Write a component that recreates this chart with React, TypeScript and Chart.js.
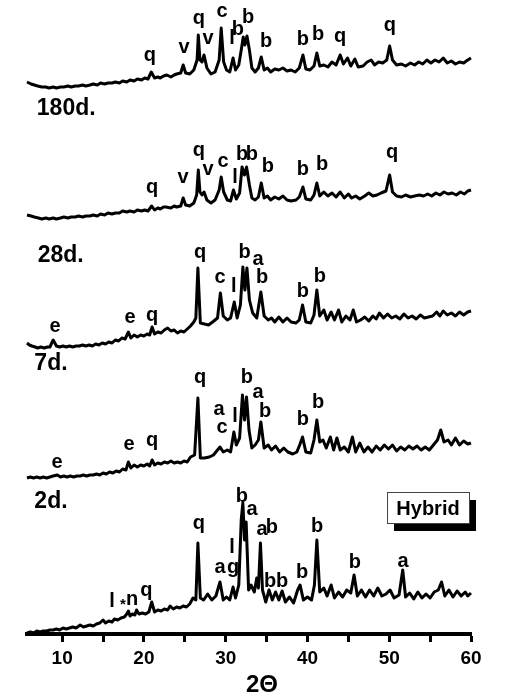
import React, { useEffect, useRef } from "react";
import { Chart, registerables } from "chart.js";

Chart.register(...registerables);

// ---- Data (2θ, relative intensity) ----
const TRACE_180D: [number, number][] = [
  [5.7, 6], [6.2, 4], [6.6, 3], [7.0, 2], [7.5, 1], [8.0, 1], [8.4, 0], [8.9, 1], [9.3, 0], [9.8, 1],
  [10.2, 1], [10.7, 2], [11.1, 1], [11.6, 2], [12.0, 2], [12.5, 3], [12.9, 2], [13.4, 3], [13.8, 4], [14.3, 3],
  [14.7, 5], [15.2, 4], [15.6, 5], [16.1, 5], [16.5, 6], [17.0, 5], [17.4, 7], [17.9, 6], [18.3, 8], [18.8, 7],
  [19.2, 9], [19.7, 8], [20.1, 10], [20.5, 9], [20.9, 16], [21.3, 10], [21.7, 11], [22.0, 10], [22.4, 12], [22.8, 13],
  [23.3, 11], [23.7, 13], [24.0, 14], [24.5, 15], [24.8, 23], [25.1, 15], [25.6, 14], [26.1, 18], [26.5, 28], [26.65, 53],
  [26.85, 28], [27.1, 26], [27.35, 33], [27.7, 20], [28.2, 14], [28.7, 16], [29.2, 28], [29.45, 60], [29.75, 26], [30.1, 18],
  [30.5, 16], [30.9, 30], [31.2, 18], [31.6, 23], [31.9, 38], [32.15, 51], [32.35, 43], [32.6, 52], [32.9, 38], [33.2, 20],
  [33.6, 16], [34.0, 20], [34.35, 31], [34.7, 18], [35.1, 20], [35.5, 16], [36.0, 19], [36.5, 18], [37.0, 20], [37.5, 17],
  [38.0, 18], [38.5, 16], [39.0, 20], [39.45, 33], [39.8, 19], [40.3, 18], [40.8, 22], [41.15, 35], [41.5, 22], [42.0, 23],
  [42.5, 21], [43.0, 26], [43.5, 23], [44.0, 33], [44.4, 24], [44.9, 30], [45.3, 22], [45.8, 29], [46.2, 21], [46.8, 22],
  [47.3, 26], [47.8, 28], [48.2, 23], [48.7, 26], [49.2, 25], [49.7, 28], [50.05, 42], [50.4, 28], [50.9, 23], [51.5, 24],
  [52.0, 22], [52.6, 25], [53.1, 23], [53.6, 26], [54.1, 24], [54.6, 28], [55.1, 25], [55.6, 28], [56.1, 26], [56.6, 30],
  [57.1, 25], [57.6, 27], [58.1, 24], [58.6, 26], [59.1, 25], [59.6, 28], [60, 30],
];

const TRACE_28D: [number, number][] = [
  [5.7, 4], [6.2, 3], [6.6, 2], [7.1, 1], [7.5, 0], [8.0, 1], [8.4, 0], [8.9, 1], [9.3, 0], [9.8, 1],
  [10.2, 2], [10.7, 1], [11.1, 2], [11.6, 2], [12.0, 3], [12.5, 2], [12.9, 3], [13.4, 3], [13.8, 4], [14.3, 3],
  [14.7, 5], [15.2, 4], [15.6, 6], [16.1, 5], [16.5, 6], [17.0, 6], [17.4, 8], [17.9, 7], [18.3, 8], [18.8, 7],
  [19.2, 9], [19.7, 8], [20.1, 9], [20.5, 8], [20.95, 13], [21.3, 9], [21.7, 11], [22.0, 10], [22.4, 12], [22.7, 12],
  [23.3, 11], [23.7, 13], [24.0, 12], [24.5, 13], [24.8, 21], [25.1, 14], [25.6, 13], [26.1, 16], [26.45, 24], [26.65, 49],
  [26.85, 27], [27.1, 24], [27.35, 27], [27.7, 19], [28.2, 16], [28.7, 19], [29.2, 29], [29.45, 42], [29.75, 27], [30.2, 19],
  [30.6, 18], [30.95, 29], [31.3, 20], [31.7, 26], [32.0, 52], [32.3, 44], [32.55, 52], [32.9, 34], [33.2, 21], [33.6, 19],
  [34.0, 22], [34.35, 36], [34.7, 21], [35.1, 23], [35.5, 19], [36.0, 22], [36.5, 20], [37.0, 23], [37.5, 19], [38.0, 18],
  [38.6, 19], [39.0, 22], [39.45, 32], [39.8, 20], [40.4, 19], [40.8, 24], [41.15, 36], [41.5, 23], [42.0, 27], [42.5, 23],
  [43.0, 26], [43.5, 22], [44.0, 27], [44.5, 21], [45.0, 25], [45.4, 21], [45.9, 23], [46.4, 20], [47.0, 23], [47.5, 26],
  [48.0, 23], [48.5, 24], [49.0, 26], [49.6, 28], [50.05, 44], [50.4, 27], [50.9, 23], [51.5, 22], [52.0, 24], [52.6, 22],
  [53.1, 23], [53.7, 24], [54.2, 23], [54.7, 25], [55.2, 23], [55.7, 26], [56.2, 24], [56.7, 27], [57.2, 25], [57.7, 26],
  [58.2, 24], [58.7, 27], [59.2, 25], [59.6, 28], [60, 29],
];

const TRACE_7D: [number, number][] = [
  [5.7, 5], [6.0, 3], [6.3, 2], [6.7, 1], [7.0, 0], [7.4, 1], [7.8, 0], [8.2, 1], [8.5, 1], [8.9, 8],
  [9.3, 2], [9.7, 1], [10.1, 2], [10.5, 1], [10.9, 2], [11.3, 1], [11.7, 2], [12.1, 2], [12.5, 3], [12.9, 2],
  [13.3, 3], [13.7, 2], [14.1, 4], [14.5, 3], [14.9, 5], [15.3, 4], [15.7, 6], [16.1, 5], [16.5, 8], [16.9, 7],
  [17.3, 10], [17.7, 9], [18.1, 16], [18.4, 10], [18.8, 13], [19.2, 11], [19.6, 13], [20.0, 12], [20.4, 14], [20.7, 13],
  [21.0, 21], [21.3, 14], [21.7, 16], [22.1, 15], [22.5, 18], [22.9, 20], [23.3, 17], [23.7, 18], [24.1, 15], [24.5, 17],
  [24.9, 16], [25.3, 19], [25.7, 22], [26.1, 26], [26.35, 30], [26.6, 80], [26.9, 25], [27.4, 24], [27.9, 23], [28.4, 26],
  [29.0, 30], [29.35, 55], [29.7, 32], [30.2, 28], [30.6, 30], [31.05, 46], [31.4, 30], [31.8, 43], [32.1, 81], [32.35, 58],
  [32.6, 80], [32.9, 48], [33.3, 35], [33.8, 30], [34.3, 56], [34.7, 32], [35.2, 28], [35.6, 30], [36.0, 26], [36.5, 31],
  [37.0, 26], [37.5, 30], [38.0, 26], [38.6, 25], [39.0, 28], [39.4, 43], [39.8, 26], [40.4, 25], [40.8, 33], [41.15, 58],
  [41.5, 32], [42.0, 38], [42.4, 28], [42.9, 36], [43.3, 28], [43.8, 38], [44.2, 26], [44.7, 32], [45.2, 28], [45.6, 38],
  [46.0, 26], [46.5, 28], [47.0, 31], [47.5, 27], [48.0, 32], [48.4, 29], [48.8, 35], [49.3, 30], [49.8, 34], [50.3, 30],
  [50.8, 32], [51.3, 29], [51.8, 34], [52.3, 30], [52.8, 32], [53.3, 29], [53.8, 33], [54.3, 30], [54.8, 31], [55.3, 32],
  [55.8, 36], [56.2, 32], [56.6, 37], [57.1, 33], [57.6, 35], [58.1, 32], [58.6, 36], [59.1, 33], [59.6, 36], [60, 37],
];

const TRACE_2D: [number, number][] = [
  [5.7, 0], [6.1, 1], [6.5, 0], [6.9, 1], [7.3, 0], [7.7, 1], [8.1, 0], [8.5, 1], [8.9, 2], [9.4, 3],
  [9.8, 1], [10.2, 2], [10.6, 1], [11.0, 2], [11.4, 1], [11.8, 2], [12.2, 2], [12.6, 3], [13.0, 2], [13.4, 3],
  [13.8, 3], [14.2, 4], [14.6, 3], [15.0, 5], [15.4, 4], [15.8, 6], [16.2, 5], [16.6, 7], [17.0, 6], [17.4, 9],
  [17.8, 8], [18.1, 16], [18.4, 10], [18.8, 13], [19.2, 11], [19.6, 13], [20.0, 12], [20.4, 14], [20.7, 12], [21.0, 18],
  [21.3, 13], [21.7, 15], [22.1, 14], [22.5, 16], [22.9, 15], [23.3, 17], [23.7, 15], [24.1, 16], [24.5, 15], [24.9, 17],
  [25.3, 16], [25.7, 21], [26.2, 23], [26.6, 80], [26.9, 20], [27.4, 20], [28.0, 21], [28.5, 23], [29.0, 28], [29.3, 31],
  [29.7, 26], [30.2, 28], [30.6, 26], [31.0, 46], [31.3, 33], [31.7, 40], [32.05, 83], [32.3, 58], [32.55, 81], [32.85, 48],
  [33.2, 30], [33.6, 33], [34.0, 38], [34.3, 56], [34.7, 30], [35.2, 33], [35.6, 28], [36.1, 32], [36.6, 26], [37.1, 30],
  [37.6, 26], [38.2, 24], [38.7, 26], [39.05, 33], [39.4, 41], [39.8, 26], [40.4, 25], [40.8, 38], [41.15, 58], [41.5, 36],
  [41.9, 38], [42.3, 30], [42.8, 41], [43.2, 28], [43.6, 40], [44.0, 28], [44.5, 31], [45.0, 26], [45.5, 41], [45.9, 26],
  [46.4, 35], [46.9, 26], [47.4, 31], [47.9, 26], [48.4, 32], [48.9, 28], [49.4, 33], [49.9, 29], [50.4, 33], [50.9, 27],
  [51.4, 31], [51.9, 28], [52.4, 32], [52.9, 29], [53.4, 32], [53.9, 28], [54.4, 31], [54.9, 28], [55.4, 33], [55.9, 38],
  [56.3, 48], [56.7, 36], [57.2, 38], [57.6, 33], [58.1, 40], [58.6, 33], [59.1, 37], [59.6, 34], [60, 35],
];

const TRACE_HYBRID: [number, number][] = [
  [5.7, 1], [6.1, 2], [6.5, 1], [6.9, 3], [7.3, 2], [7.7, 3], [8.1, 3], [8.5, 4], [8.9, 4], [9.3, 5],
  [9.7, 4], [10.1, 6], [10.5, 5], [10.9, 6], [11.3, 7], [11.7, 6], [12.2, 9], [12.6, 7], [13.0, 8], [13.4, 9],
  [13.8, 8], [14.2, 10], [14.6, 11], [15.0, 14], [15.3, 11], [15.7, 13], [16.1, 12], [16.4, 15], [16.8, 14], [17.2, 16],
  [17.6, 17], [17.9, 20], [18.1, 23], [18.3, 18], [18.6, 20], [18.9, 19], [19.1, 24], [19.4, 20], [19.8, 21], [20.2, 20],
  [20.6, 22], [20.95, 32], [21.3, 22], [21.7, 24], [22.1, 23], [22.5, 25], [22.9, 24], [23.2, 28], [23.6, 25], [24.0, 27],
  [24.4, 26], [24.8, 28], [25.2, 27], [25.6, 30], [26.0, 36], [26.35, 34], [26.6, 91], [26.9, 36], [27.3, 34], [27.8, 40],
  [28.3, 34], [28.8, 38], [29.3, 52], [29.7, 34], [30.1, 37], [30.5, 34], [30.9, 47], [31.2, 36], [31.6, 49], [31.9, 114],
  [32.1, 131], [32.3, 94], [32.5, 112], [32.8, 44], [33.1, 49], [33.5, 42], [33.8, 56], [34.0, 46], [34.25, 91], [34.5, 44],
  [34.9, 32], [35.3, 44], [35.7, 34], [36.1, 42], [36.5, 34], [36.9, 43], [37.3, 32], [37.8, 37], [38.3, 31], [38.8, 44],
  [39.1, 49], [39.5, 34], [40.0, 37], [40.5, 34], [40.85, 49], [41.15, 94], [41.5, 42], [42.0, 46], [42.4, 38], [42.9, 49],
  [43.3, 36], [43.8, 42], [44.3, 37], [44.8, 44], [45.3, 41], [45.7, 59], [46.1, 38], [46.6, 44], [47.1, 37], [47.6, 44],
  [48.1, 38], [48.6, 46], [49.1, 38], [49.6, 40], [50.1, 44], [50.6, 36], [51.2, 39], [51.65, 64], [52.0, 37], [52.5, 41],
  [53.0, 35], [53.5, 42], [54.0, 36], [54.5, 40], [55.0, 36], [55.5, 42], [56.0, 44], [56.4, 52], [56.8, 38], [57.3, 44],
  [57.8, 37], [58.3, 43], [58.8, 38], [59.3, 42], [59.6, 38], [60, 41],
];

const TRACES = [TRACE_180D, TRACE_28D, TRACE_7D, TRACE_2D, TRACE_HYBRID];
const TRACE_NAMES = ["180d.", "28d.", "7d.", "2d.", "Hybrid"];
const OFFSETS = [546, 415, 286, 156, 0];

// sample names written at the left (2θ of left edge, stacked value of baseline)
const NAME_POS: [number, number][] = [[6.9, 519], [7.0, 372], [6.6, 264], [6.6, 126]];

// phase labels: [2θ, stacked value of baseline, letter]
const PEAK_LABELS: [number, number, string][] = [
  // 180d.
  [20.74, 573, "q"], [24.9, 581, "v"], [26.73, 610, "q"], [27.84, 590, "v"], [29.55, 617, "c"],
  [30.77, 590, "l"], [31.5, 599, "b"], [32.73, 611, "b"], [34.93, 587, "b"], [39.45, 589, "b"],
  [41.29, 594, "b"], [43.98, 592, "q"], [50.09, 603, "q"],
  // 28d.
  [20.99, 441, "q"], [24.78, 451, "v"], [26.73, 478, "q"], [27.84, 459, "v"], [29.67, 467, "c"],
  [31.14, 451, "l"], [32.0, 474, "b"], [33.2, 474, "b"], [35.17, 462, "b"], [39.45, 459, "b"],
  [41.78, 464, "b"], [50.34, 476, "q"],
  // 7d.
  [9.12, 302, "e"], [18.3, 311, "e"], [20.99, 313, "q"], [26.86, 376, "q"], [29.3, 351, "c"],
  [31.0, 342, "l"], [32.3, 376, "b"], [33.95, 369, "a"], [34.44, 351, "b"], [39.45, 337, "b"],
  [41.53, 352, "b"],
  // 2d.
  [9.37, 166, "e"], [18.17, 184, "e"], [20.99, 188, "q"], [26.86, 251, "q"], [29.18, 219, "a"],
  [29.55, 201, "c"], [31.14, 212, "l"], [32.6, 251, "b"], [33.95, 236, "a"], [34.81, 217, "b"],
  [39.45, 209, "b"], [41.29, 226, "b"],
  // Hybrid
  [31.99, 132, "b"], [33.22, 119, "a"], [34.44, 99, "a"], [35.66, 101, "b"], [26.73, 105, "q"],
  [30.77, 81, "l"], [29.3, 61, "a"], [30.9, 61, "g"], [35.42, 47, "b"], [36.9, 47, "b"],
  [39.33, 56, "b"], [41.17, 102, "b"], [45.81, 66, "b"], [51.68, 67, "a"], [16.1, 27, "l"],
  [17.44, 25, "*"], [18.54, 29, "n"], [20.3, 38, "q"],
];

const X_MIN = 5.7;
const X_MAX = 60;
const Y_MAX = 634;
const TICK_VALUES = [10, 15, 20, 25, 30, 35, 40, 45, 50, 55, 60];
const X_TITLE = "2Θ";
const BOX_TEXT = "Hybrid";

const FONT = '"Liberation Sans", Arial, Helvetica, sans-serif';

const labelPlugin = {
  id: "xrdLabels",
  afterDraw(chart: any) {
    const { ctx, scales, chartArea } = chart;
    const xs = scales.x;
    const ys = scales.y;
    ctx.save();
    ctx.fillStyle = "#000";
    ctx.textBaseline = "alphabetic";

    // phase letters
    ctx.textAlign = "center";
    for (const [t, v, s] of PEAK_LABELS) {
      const fs = s === "*" ? 15 : 20;
      ctx.font = `bold ${fs}px ${FONT}`;
      ctx.fillText(s, xs.getPixelForValue(t), ys.getPixelForValue(v));
    }

    // sample names
    ctx.font = `bold 23px ${FONT}`;
    ctx.textAlign = "left";
    NAME_POS.forEach(([t, v], i) => {
      ctx.fillText(TRACE_NAMES[i], xs.getPixelForValue(t), ys.getPixelForValue(v));
    });

    // Hybrid box with drop shadow
    const bx = chartArea.right - 84;
    const by = 492;
    const bw = 82;
    const bh = 31;
    ctx.fillStyle = "#000";
    ctx.fillRect(bx + 7, by + 8, bw, bh);
    ctx.fillStyle = "#fff";
    ctx.fillRect(bx, by, bw, bh);
    ctx.strokeStyle = "#444";
    ctx.lineWidth = 1;
    ctx.strokeRect(bx + 0.5, by + 0.5, bw, bh);
    ctx.fillStyle = "#000";
    ctx.font = `bold 20px ${FONT}`;
    ctx.textAlign = "center";
    ctx.fillText(BOX_TEXT, bx + bw / 2, by + 23);

    // axis title
    ctx.font = `bold 24px ${FONT}`;
    ctx.textAlign = "center";
    ctx.fillText(X_TITLE, (chartArea.left + chartArea.right) / 2 + 13, chartArea.bottom + 58);
    ctx.restore();
  },
};

export default function App() {
  const ref = useRef<HTMLCanvasElement | null>(null);
  useEffect(() => {
    if (!ref.current) return;
    const chart = new Chart(ref.current, {
      type: "line",
      data: {
        datasets: TRACES.map((tr, i) => ({
          label: TRACE_NAMES[i],
          data: tr.map(([t, v]) => ({ x: t, y: v + OFFSETS[i] })),
          borderColor: "#000",
          borderWidth: 3,
          pointRadius: 0,
          tension: 0,
          fill: false,
          borderJoinStyle: "round" as any,
          clip: false as any,
        })),
      },
      plugins: [labelPlugin],
      options: {
        animation: false,
        responsive: false,
        devicePixelRatio: 1,
        layout: { padding: { left: 27, right: 39, top: 0, bottom: 0 } },
        plugins: { legend: { display: false }, tooltip: { enabled: false } },
        scales: {
          x: {
            type: "linear",
            position: "bottom",
            min: X_MIN,
            max: X_MAX,
            afterBuildTicks: (scale: any) => {
              scale.ticks = TICK_VALUES.map((v) => ({ value: v }));
            },
            afterFit: (scale: any) => {
              scale.height = 61;
            },
            border: { display: true, color: "#000", width: 4 },
            grid: {
              display: true,
              drawOnChartArea: false,
              drawTicks: true,
              tickLength: 8,
              tickWidth: 3,
              tickColor: "#000",
            },
            ticks: {
              color: "#000",
              padding: 5,
              maxRotation: 0,
              autoSkip: false,
              font: { family: FONT, size: 19, weight: "bold" },
              callback: (v: any) => (Number(v) % 10 === 0 ? String(v) : ""),
            },
            title: { display: false },
          },
          y: { display: false, min: 0, max: Y_MAX },
        },
      },
    });
    return () => chart.destroy();
  }, []);
  return (
    <div style={{ position: "absolute", left: 0, top: 0, width: 510, height: 695, background: "#fff" }}>
      <canvas ref={ref} width={510} height={695} style={{ display: "block", width: 510, height: 695 }} />
    </div>
  );
}
